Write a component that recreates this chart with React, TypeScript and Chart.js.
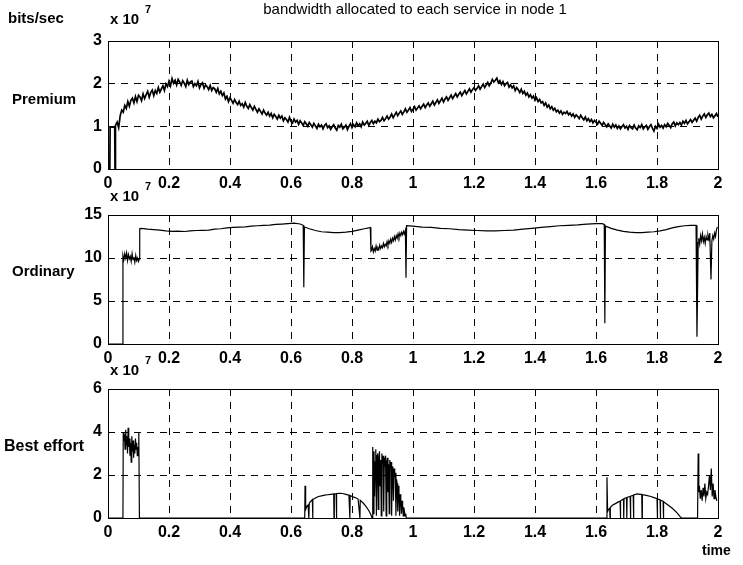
import { useEffect, useRef } from "react";
import { Chart, registerables } from "chart.js";

Chart.register(...registerables);

type Pt = [number, number];

// evenly sampled stretch of readings starting at t0
const run = (t0: number, dt: number, vals: number[]): Pt[] =>
  vals.map((v, i) => [Math.round((t0 + i * dt) * 10000) / 10000, v]);

const timeTicks = [0, 0.2, 0.4, 0.6, 0.8, 1, 1.2, 1.4, 1.6, 1.8, 2];
const premiumTicks = [0, 1, 2, 3];
const ordinaryTicks = [0, 5, 10, 15];
const bestEffortTicks = [0, 2, 4, 6];

// Premium service, x 10^7 bits/sec
const premiumStart: Pt[] = [
  [0, 0], [0.006, 0], [0.007, 0.98], [0.022, 0.98], [0.023, 0], [0.024, 0.98],
];
const premiumSamples = [
  1.02, 1.10, 0.97, 1.25, 1.38, 1.33, 1.49, 1.42, 1.58, 1.47,
  1.61, 1.66, 1.55, 1.70, 1.58, 1.73, 1.69, 1.60, 1.76, 1.65,
  1.74, 1.82, 1.68, 1.79, 1.85, 1.72, 1.84, 1.77, 1.91, 1.80,
  1.88, 1.95, 1.84, 1.99, 1.93, 2.06, 1.95, 2.12, 2.01, 2.08,
  1.97, 2.10, 2.04, 1.96, 2.07, 2.01, 1.93, 2.08, 1.98, 2.04,
  2.06, 1.93, 2.00, 1.95, 2.05, 1.90, 1.98, 2.02, 1.89, 1.97,
  1.93, 1.86, 1.96, 1.84, 1.91, 1.88, 1.80, 1.89, 1.76, 1.82,
  1.72, 1.78, 1.64, 1.70, 1.58, 1.67, 1.61, 1.54, 1.63, 1.56,
  1.51, 1.59, 1.49, 1.53, 1.45, 1.56, 1.47, 1.42, 1.51, 1.44,
  1.38, 1.47, 1.40, 1.33, 1.41, 1.35, 1.29, 1.38, 1.31, 1.26,
  1.33, 1.24, 1.30, 1.20, 1.28, 1.23, 1.17, 1.26, 1.19, 1.24,
  1.13, 1.20, 1.16, 1.10, 1.21, 1.12, 1.08, 1.17, 1.10, 1.14,
  1.05, 1.13, 1.08, 1.02, 1.11, 1.06, 1.00, 1.09, 1.04, 0.98,
  1.07, 1.01, 0.95, 1.05, 0.99, 1.03, 0.94, 1.02, 1.06, 0.97,
  1.01, 0.93, 0.99, 1.04, 0.96, 0.91, 1.02, 0.98, 1.05, 0.94,
  0.98, 1.03, 0.92, 1.00, 1.06, 0.97, 1.04, 0.99, 1.08, 1.01,
  1.06, 0.99, 1.10, 1.03, 1.07, 1.12, 1.02, 1.09, 1.14, 1.06,
  1.12, 1.08, 1.17, 1.11, 1.14, 1.21, 1.13, 1.18, 1.24, 1.17,
  1.22, 1.29, 1.20, 1.27, 1.33, 1.25, 1.31, 1.36, 1.28, 1.34,
  1.41, 1.33, 1.38, 1.44, 1.35, 1.40, 1.46, 1.38, 1.43, 1.48,
  1.41, 1.47, 1.52, 1.44, 1.50, 1.55, 1.47, 1.53, 1.59, 1.50,
  1.56, 1.62, 1.54, 1.60, 1.66, 1.57, 1.64, 1.69, 1.61, 1.67,
  1.73, 1.65, 1.71, 1.77, 1.69, 1.75, 1.80, 1.72, 1.78, 1.84,
  1.76, 1.82, 1.88, 1.80, 1.86, 1.91, 1.84, 1.89, 1.95, 1.87,
  1.93, 1.99, 1.91, 1.97, 2.03, 1.95, 2.01, 2.10, 2.04, 2.08,
  2.13, 2.02, 2.07, 1.98, 2.05, 1.95, 2.00, 2.03, 1.92, 1.97,
  1.90, 1.95, 1.84, 1.91, 1.86, 1.79, 1.87, 1.77, 1.82, 1.73,
  1.78, 1.69, 1.74, 1.66, 1.71, 1.61, 1.67, 1.58, 1.63, 1.55,
  1.58, 1.49, 1.55, 1.45, 1.50, 1.41, 1.46, 1.38, 1.42, 1.34,
  1.38, 1.31, 1.36, 1.28, 1.33, 1.30, 1.35, 1.27, 1.31, 1.24,
  1.29, 1.21, 1.27, 1.23, 1.18, 1.26, 1.20, 1.15, 1.22, 1.13,
  1.18, 1.11, 1.16, 1.08, 1.14, 1.10, 1.05, 1.12, 1.07, 1.02,
  1.09, 1.04, 0.99, 1.06, 1.01, 0.96, 1.05, 0.98, 1.03, 0.95,
  1.01, 0.94, 0.99, 1.04, 0.96, 1.00, 0.93, 1.02, 0.97, 0.94,
  1.03, 0.96, 0.92, 1.01, 0.97, 1.04, 0.94, 0.99, 1.02, 0.93,
  0.99, 1.04, 0.96, 0.89, 1.00, 0.95, 1.05, 0.98, 1.02, 0.96,
  1.04, 0.99, 1.07, 1.02, 0.97, 1.06, 1.10, 1.01, 1.08, 1.04,
  1.09, 1.03, 1.12, 1.07, 1.14, 1.06, 1.11, 1.16, 1.09, 1.14,
  1.19, 1.12, 1.21, 1.26, 1.17, 1.24, 1.29, 1.21, 1.27, 1.31,
  1.23, 1.28, 1.20, 1.25, 1.30, 1.22,
];
const premium: Pt[] = [...premiumStart, ...run(0.025, 0.005, premiumSamples)];

// Ordinary service, x 10^7 bits/sec
const ordinary: Pt[] = [
  [0, 0], [0.048, 0],
  ...run(0.049, 0.003, [10.3, 9.8, 10.5, 10.0, 10.6, 9.7, 10.4, 9.9, 10.2, 9.6, 10.5, 9.8, 10.1, 9.5, 10.3, 9.7, 10.0, 9.6, 9.9]),
  [0.104, 13.4],
  ...run(0.11, 0.02, [13.45, 13.35, 13.3, 13.25, 13.15, 13.1, 13.12, 13.08, 13.15, 13.2, 13.22, 13.25, 13.35, 13.4, 13.5, 13.55, 13.58, 13.62, 13.7, 13.75, 13.8, 13.82, 13.9, 13.95, 14.0, 14.05, 13.95]),
  [0.64, 13.8], [0.642, 6.6], [0.644, 13.6],
  ...run(0.66, 0.02, [13.4, 13.2, 13.05, 13.0, 12.95, 12.95, 13.0, 13.1, 13.25, 13.4]),
  [0.855, 13.5], [0.86, 13.55], [0.862, 10.8],
  ...run(0.864, 0.003, [
    10.9, 11.3, 10.7, 11.1, 10.8, 11.4, 10.9, 11.2, 11.0, 11.5, 11.1, 11.4, 11.2, 11.7, 11.3, 11.6, 11.4, 11.9, 11.5,
    12.0, 11.7, 12.2, 11.8, 12.3, 12.0, 12.5, 12.1, 12.6, 12.3, 12.8, 12.4, 12.9, 12.6, 13.0, 12.7, 13.1, 12.8, 13.2,
  ]),
  [0.977, 7.7], [0.979, 13.75],
  ...run(1.0, 0.03, [13.7, 13.6, 13.55, 13.45, 13.4, 13.3, 13.25, 13.2, 13.15, 13.15, 13.2, 13.25, 13.35, 13.45, 13.55, 13.65, 13.75, 13.8, 13.85, 13.95, 14.0]),
  [1.62, 14.0], [1.627, 13.9], [1.629, 2.4], [1.631, 13.7],
  ...run(1.65, 0.02, [13.45, 13.25, 13.1, 13.0, 12.95, 12.95, 13.0, 13.05, 13.15, 13.3, 13.5, 13.65, 13.75, 13.8]),
  [1.928, 13.8], [1.931, 0.85], [1.935, 11.8],
  ...run(1.937, 0.003, [12.3, 11.6, 12.6, 12.0, 12.8, 11.9, 12.4, 11.7, 12.5, 12.1, 12.7, 12.2, 12.9]),
  [1.977, 7.5], [1.98, 12.0],
  ...run(1.983, 0.003, [12.6, 12.2, 12.9, 12.5, 13.3, 13.6]),
];

// Best effort service, x 10^7 bits/sec
const bestEffort: Pt[] = [
  [0, 0], [0.049, 0], [0.05, 4.0],
  ...run(0.052, 0.002, [3.6, 3.9, 3.2, 4.1, 3.4, 3.8, 3.0, 4.2, 3.3, 3.7, 2.9, 3.5, 2.6, 3.8, 3.1, 3.6, 2.8, 3.4, 3.0, 3.7, 3.2, 3.5, 2.9, 3.3, 3.0]),
  [0.101, 4.0], [0.103, 0],
  [0.645, 0], [0.646, 1.5], [0.648, 0.4], [0.652, 0.55], [0.656, 0.6], [0.658, 0.65], [0.659, 0], [0.66, 0.7],
  [0.665, 0.78], [0.67, 0.85], [0.671, 0], [0.672, 0.86], [0.68, 0.93], [0.69, 1.0], [0.7, 1.03], [0.71, 1.06],
  [0.72, 1.08], [0.73, 1.1], [0.74, 1.12], [0.741, 0], [0.742, 1.12], [0.748, 1.13], [0.749, 0], [0.75, 1.14],
  [0.76, 1.15], [0.77, 1.14], [0.78, 1.1], [0.79, 1.06], [0.793, 0], [0.794, 1.05], [0.8, 1.0], [0.81, 0.95],
  [0.82, 0.88], [0.826, 0], [0.827, 0.82], [0.835, 0.72], [0.845, 0.55], [0.855, 0.35], [0.862, 0.15], [0.866, 0],
  ...run(0.868, 0.002, [
    3.3, 0.2, 3.1, 1.0, 2.6, 3.2, 0.1, 2.9, 3.0, 0.4, 2.8, 3.1, 1.5, 2.7, 0.1, 3.0, 2.5, 2.9, 0.3, 2.8,
    2.4, 2.9, 0.1, 2.6, 2.8, 1.2, 2.5, 0.2, 2.7, 2.3, 2.6, 0.1, 2.4, 2.2, 0.8, 2.3, 1.9, 2.1, 0.1, 1.8,
    1.6, 0.3, 1.5, 1.2, 0.1, 1.1, 0.9, 0.2, 0.8, 0.6, 0.1, 0.5, 0.3, 0.1, 0.2, 0,
  ]),
  [1.635, 0], [1.636, 1.9], [1.638, 0.3], [1.641, 0.4], [1.645, 0.45], [1.646, 0], [1.647, 0.5],
  [1.655, 0.6], [1.665, 0.68], [1.675, 0.76], [1.679, 0.78], [1.68, 0], [1.681, 0.8], [1.686, 0.85],
  [1.69, 0.88], [1.691, 0], [1.692, 0.9], [1.7, 0.95], [1.701, 0], [1.702, 0.96], [1.708, 0.99],
  [1.712, 1.0], [1.713, 0], [1.714, 1.02], [1.722, 1.06], [1.723, 0], [1.724, 1.07], [1.735, 1.12],
  [1.745, 1.1], [1.75, 1.1], [1.751, 0], [1.752, 1.08], [1.765, 1.05], [1.78, 1.0], [1.79, 0.95],
  [1.8, 0.9], [1.801, 0], [1.802, 0.88], [1.81, 0.85], [1.811, 0], [1.812, 0.82], [1.82, 0.78],
  [1.821, 0], [1.822, 0.76], [1.835, 0.62], [1.85, 0.45], [1.865, 0.25], [1.875, 0.08], [1.88, 0],
  [1.933, 0], [1.935, 3.0], [1.937, 1.2],
  ...run(1.939, 0.003, [1.5, 0.9, 1.3, 0.8, 1.4, 1.0, 1.6, 0.9, 1.2, 1.1, 1.5, 2.0, 1.3, 2.3, 1.0, 1.6, 0.9, 1.3, 1.0, 0.8]),
];

const FONT = "'Liberation Sans', Arial, Helvetica, sans-serif";
const W = 743;
const H = 565;
const LEFT = 108;
const RIGHT = 718;

type Txt = { text: string; x: number; y: number; size: number; bold?: boolean; align?: CanvasTextAlign };

interface Panel {
  points: Pt[];
  yTicks: number[];
  top: number;
  bottom: number;
  lineWidth: number;
  texts: Txt[];
}

const exponent = (x: number, y: number): Txt[] => [
  { text: "x 10", x, y, size: 15, bold: true },
  { text: "7", x: x + 35, y: y - 10, size: 11, bold: true },
];

const panels: Panel[] = [
  {
    points: premium,
    yTicks: premiumTicks,
    top: 41,
    bottom: 169,
    lineWidth: 1.7,
    texts: [
      { text: "bandwidth allocated to each service in node 1", x: 415, y: 10, size: 15, align: "center" },
      { text: "bits/sec", x: 8, y: 19, size: 15, bold: true },
      ...exponent(110, 20),
      { text: "Premium", x: 12, y: 100, size: 15, bold: true },
    ],
  },
  {
    points: ordinary,
    yTicks: ordinaryTicks,
    top: 215,
    bottom: 344,
    lineWidth: 1.2,
    texts: [...exponent(110, 197), { text: "Ordinary", x: 12, y: 272, size: 15, bold: true }],
  },
  {
    points: bestEffort,
    yTicks: bestEffortTicks,
    top: 389,
    bottom: 518,
    lineWidth: 1.2,
    texts: [
      ...exponent(110, 371),
      { text: "Best effort", x: 4, y: 447, size: 16, bold: true },
      { text: "time", x: 702, y: 551, size: 14, bold: true },
    ],
  },
];

const X_AXIS_H = 30;

function framePlugin(texts: Txt[]) {
  return {
    id: "frameAndText",
    afterDraw(chart: Chart) {
      const { ctx, chartArea: a } = chart;
      ctx.save();
      ctx.strokeStyle = "#000";
      ctx.lineWidth = 1;
      ctx.setLineDash([]);
      ctx.strokeRect(
        Math.round(a.left) + 0.5,
        Math.round(a.top) + 0.5,
        Math.round(a.right - a.left),
        Math.round(a.bottom - a.top)
      );
      ctx.fillStyle = "#000";
      ctx.textBaseline = "middle";
      for (const t of texts) {
        ctx.font = `${t.bold ? "bold " : ""}${t.size}px ${FONT}`;
        ctx.textAlign = t.align ?? "left";
        ctx.fillText(t.text, t.x, t.y);
      }
      ctx.restore();
    },
  };
}

function PanelChart({ panel }: { panel: Panel }) {
  const ref = useRef<HTMLCanvasElement | null>(null);

  useEffect(() => {
    if (!ref.current) return;
    const yMin = panel.yTicks[0];
    const yMax = panel.yTicks[panel.yTicks.length - 1];
    const edgeColor = (v: number, lo: number, hi: number) => (v === lo || v === hi ? "rgba(0,0,0,0)" : "#000");

    const chart = new Chart(ref.current, {
      type: "line",
      data: {
        datasets: [
          {
            data: panel.points.map(([x, y]) => ({ x, y })),
            borderColor: "#000",
            borderWidth: panel.lineWidth,
            pointRadius: 0,
            tension: 0,
            fill: false,
          },
        ],
      },
      options: {
        animation: false,
        responsive: false,
        maintainAspectRatio: false,
        events: [],
        layout: {
          padding: { left: 0, top: panel.top, right: W - RIGHT, bottom: H - panel.bottom - X_AXIS_H },
        },
        plugins: { legend: { display: false }, tooltip: { enabled: false }, title: { display: false } },
        scales: {
          x: {
            type: "linear",
            min: 0,
            max: 2,
            afterBuildTicks: (s: any) => {
              s.ticks = timeTicks.map((value) => ({ value }));
            },
            afterFit: (s: any) => {
              s.height = X_AXIS_H;
            },
            ticks: {
              color: "#000",
              font: { family: FONT, size: 16, weight: "bold" },
              padding: 5,
              maxRotation: 0,
              autoSkip: false,
              callback: (v: any) => String(Math.round(Number(v) * 10) / 10),
            },
            grid: {
              drawTicks: false,
              lineWidth: 1,
              color: (c: any) => edgeColor(c.tick?.value, 0, 2),
            },
            border: { display: false, dash: [7, 6] },
          },
          y: {
            type: "linear",
            min: yMin,
            max: yMax,
            afterBuildTicks: (s: any) => {
              s.ticks = panel.yTicks.map((value) => ({ value }));
            },
            afterFit: (s: any) => {
              s.width = LEFT;
            },
            ticks: {
              color: "#000",
              font: { family: FONT, size: 16, weight: "bold" },
              padding: 6,
              autoSkip: false,
              callback: (v: any) => String(v),
            },
            grid: {
              drawTicks: false,
              lineWidth: 1,
              color: (c: any) => edgeColor(c.tick?.value, yMin, yMax),
            },
            border: { display: false, dash: [7, 6] },
          },
        },
      },
      plugins: [framePlugin(panel.texts)],
    });
    return () => chart.destroy();
  }, [panel]);

  return (
    <canvas
      ref={ref}
      width={W}
      height={H}
      style={{ position: "absolute", left: 0, top: 0, width: W, height: H }}
    />
  );
}

export default function App() {
  return (
    <div style={{ position: "fixed", left: 0, top: 0, width: W, height: H, background: "#fff", overflow: "hidden" }}>
      {panels.map((p, i) => (
        <PanelChart key={i} panel={p} />
      ))}
    </div>
  );
}
